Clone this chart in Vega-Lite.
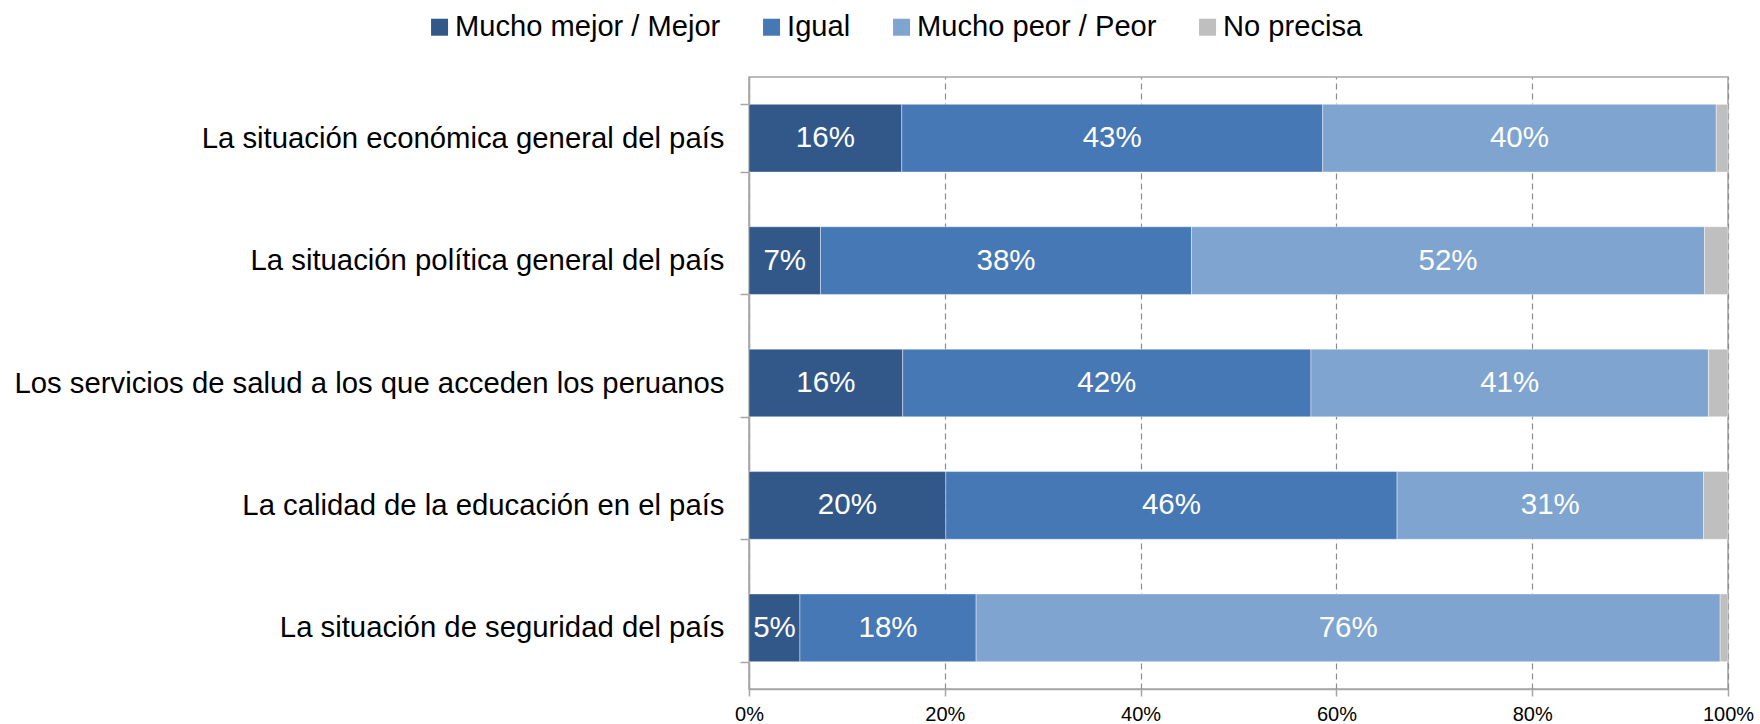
{
  "$schema": "https://vega.github.io/schema/vega-lite/v6.json",
  "width": 979,
  "height": 612,
  "autosize": {"type": "none"},
  "padding": {"left": 749, "top": 77, "right": 32, "bottom": 35},
  "background": "white",
  "config": {"font": "Liberation Sans", "view": {"stroke": "#a6a6a6", "strokeWidth": 1.5}},
  "data": {
    "values": [
      {"item": "La situación económica general del país", "resp": "Mucho mejor / Mejor", "o": 1, "v": 0.156},
      {"item": "La situación económica general del país", "resp": "Igual", "o": 2, "v": 0.430},
      {"item": "La situación económica general del país", "resp": "Mucho peor / Peor", "o": 3, "v": 0.402},
      {"item": "La situación económica general del país", "resp": "No precisa", "o": 4, "v": 0.012},
      {"item": "La situación política general del país", "resp": "Mucho mejor / Mejor", "o": 1, "v": 0.073},
      {"item": "La situación política general del país", "resp": "Igual", "o": 2, "v": 0.379},
      {"item": "La situación política general del país", "resp": "Mucho peor / Peor", "o": 3, "v": 0.524},
      {"item": "La situación política general del país", "resp": "No precisa", "o": 4, "v": 0.024},
      {"item": "Los servicios de salud a los que acceden los peruanos", "resp": "Mucho mejor / Mejor", "o": 1, "v": 0.157},
      {"item": "Los servicios de salud a los que acceden los peruanos", "resp": "Igual", "o": 2, "v": 0.417},
      {"item": "Los servicios de salud a los que acceden los peruanos", "resp": "Mucho peor / Peor", "o": 3, "v": 0.406},
      {"item": "Los servicios de salud a los que acceden los peruanos", "resp": "No precisa", "o": 4, "v": 0.020},
      {"item": "La calidad de la educación en el país", "resp": "Mucho mejor / Mejor", "o": 1, "v": 0.201},
      {"item": "La calidad de la educación en el país", "resp": "Igual", "o": 2, "v": 0.461},
      {"item": "La calidad de la educación en el país", "resp": "Mucho peor / Peor", "o": 3, "v": 0.313},
      {"item": "La calidad de la educación en el país", "resp": "No precisa", "o": 4, "v": 0.025},
      {"item": "La situación de seguridad del país", "resp": "Mucho mejor / Mejor", "o": 1, "v": 0.052},
      {"item": "La situación de seguridad del país", "resp": "Igual", "o": 2, "v": 0.180},
      {"item": "La situación de seguridad del país", "resp": "Mucho peor / Peor", "o": 3, "v": 0.760},
      {"item": "La situación de seguridad del país", "resp": "No precisa", "o": 4, "v": 0.008}
    ]
  },
  "encoding": {
    "y": {
      "field": "item",
      "type": "nominal",
      "sort": null,
      "scale": {"paddingInner": 0.447, "paddingOuter": 0.2235},
      "axis": {
        "title": null,
        "domainColor": "#a6a6a6",
        "domainWidth": 1.5,
        "tickColor": "#a6a6a6",
        "tickWidth": 1.5,
        "tickSize": 9,
        "tickBand": "extent",
        "labelFontSize": 29.3,
        "labelColor": "#000000",
        "labelPadding": 16,
        "labelLimit": 900
      }
    }
  },
  "layer": [
    {
      "mark": {"type": "bar", "stroke": "#ffffff", "strokeWidth": 0.8, "strokeOpacity": 0.5},
      "encoding": {
        "x": {
          "field": "v",
          "type": "quantitative",
          "stack": "zero",
          "scale": {"domain": [0, 1], "nice": false},
          "axis": {
            "title": null,
            "values": [0, 0.2, 0.4, 0.6, 0.8, 1],
            "format": ".0%",
            "grid": true,
            "gridDash": [6, 4],
            "gridColor": "#8c8c8c",
            "gridWidth": 1.2,
            "domainColor": "#a6a6a6",
            "domainWidth": 1.5,
            "tickColor": "#a6a6a6",
            "tickWidth": 1.5,
            "tickSize": 7,
            "labelFontSize": 20,
            "labelColor": "#000000",
            "labelPadding": 8,
            "labelFlush": false
          }
        },
        "color": {
          "field": "resp",
          "type": "nominal",
          "scale": {
            "domain": ["Mucho mejor / Mejor", "Igual", "Mucho peor / Peor", "No precisa"],
            "range": ["#32588a", "#4678b5", "#7ea4cf", "#bfbfbf"]
          },
          "legend": {
            "orient": "none",
            "legendX": -324,
            "legendY": -64.5,
            "direction": "horizontal",
            "title": null,
            "labelFontSize": 29.1,
            "labelColor": "#000000",
            "symbolType": "square",
            "symbolSize": 289,
            "symbolStrokeWidth": 0,
            "symbolOpacity": 1,
            "labelOffset": 1,
            "columnPadding": 36,
            "padding": 0,
            "labelLimit": 600
          }
        },
        "order": {"field": "o"}
      }
    },
    {
      "transform": [{"filter": "datum.resp != 'No precisa'"}],
      "mark": {"type": "text", "color": "#ffffff", "fontSize": 29.5, "baseline": "middle"},
      "encoding": {
        "x": {"field": "v", "type": "quantitative", "stack": "zero", "bandPosition": 0.5},
        "text": {"field": "v", "format": ".0%"},
        "order": {"field": "o"}
      }
    }
  ]
}
